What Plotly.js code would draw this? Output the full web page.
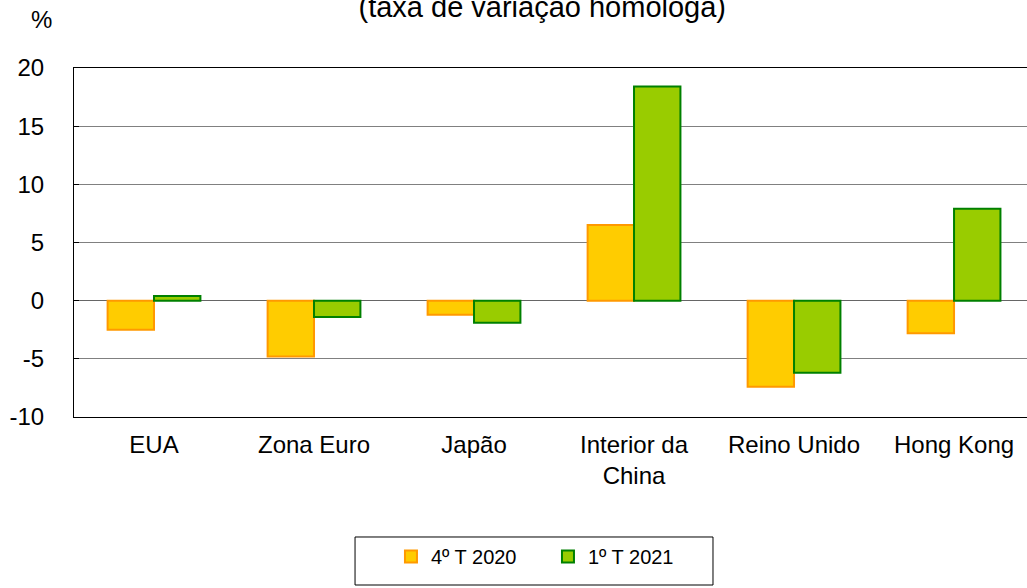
<!DOCTYPE html>
<html><head><meta charset="utf-8">
<script src="https://cdn.plot.ly/plotly-3.0.1.min.js"></script>
<style>body{margin:0;background:#fff}#c{width:1027px;height:588px}</style>
</head><body><div id="c"></div>
<script>
const categories = ["EUA", "Zona Euro", "Japão", "Interior da<br>China", "Reino Unido", "Hong Kong"];
const q4_2020 = [-2.5, -4.8, -1.2, 6.5, -7.4, -2.8];
const q1_2021 = [0.4, -1.4, -1.9, 18.4, -6.2, 7.9];
const seriesNames = ["4º T 2020", "1º T 2021"];
const yTicks = [-10, -5, 0, 5, 10, 15, 20];
const yTickText = ["-10", "-5", "0", "5", "10", "15", "20"];

const font = {family: "Liberation Sans, Arial, sans-serif", size: 24, color: "#000"};
const traces = [
  {type: "bar", name: seriesNames[0], x: categories, y: q4_2020,
   marker: {color: "#FFCC00", line: {color: "#FF9900", width: 2}}},
  {type: "bar", name: seriesNames[1], x: categories, y: q1_2021,
   marker: {color: "#99CC00", line: {color: "#008000", width: 2}}}
];
const layout = {
  width: 1027, height: 588,
  margin: {l: 74, r: 0, t: 68, b: 171},
  font: font,
  paper_bgcolor: "#fff", plot_bgcolor: "#fff",
  barmode: "group", bargap: 0.42, bargroupgap: 0,
  showlegend: true,
  title: {text: "(taxa de variação homóloga)", xref: "container", x: 0.528, xanchor: "center",
          yref: "container", y: 0.988, yanchor: "middle", font: {size: 29}},
  xaxis: {type: "category", range: [-0.5, 5.456], showline: true, linecolor: "#000", linewidth: 1,
          mirror: true, ticks: "", showgrid: false, tickfont: {size: 24}, ticklabelstandoff: 6,
          automargin: false},
  yaxis: {range: [-10, 20], tickvals: yTicks, ticktext: yTickText, showline: true, linecolor: "#000", linewidth: 1,
          ticks: "inside", ticklen: 5, tickcolor: "#000", gridcolor: "#808080", gridwidth: 1,
          zeroline: true, zerolinecolor: "#666", zerolinewidth: 1, tickfont: {size: 24},
          ticklabelstandoff: 24, automargin: false},
  legend: {orientation: "h", x: 0.3326, xanchor: "left", y: -0.344, yanchor: "top",
           borderwidth: 0, font: {size: 20}, bgcolor: "rgba(0,0,0,0)",
           entrywidth: 112, entrywidthmode: "pixels", traceorder: "normal"},
  shapes: [{type: "rect", xref: "paper", yref: "paper", x0: 0.2949, x1: 0.6705, y0: -0.4814, y1: -0.3438,
            line: {color: "#000", width: 1}, fillcolor: "rgba(0,0,0,0)"}],
  annotations: [{text: "%", xref: "paper", yref: "paper", x: -0.0336, y: 1.14, xanchor: "center", yanchor: "middle",
                 showarrow: false, font: {size: 24}}]
};
Plotly.newPlot("c", traces, layout, {displayModeBar: false, staticPlot: true});
</script></body></html>
